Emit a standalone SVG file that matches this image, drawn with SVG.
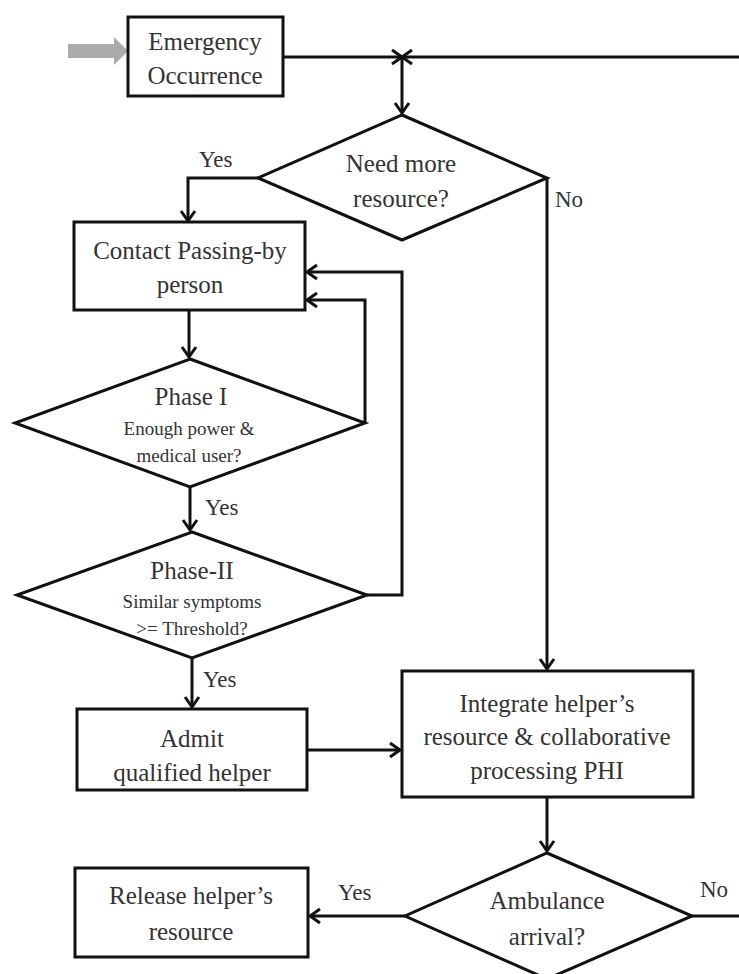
<svg xmlns="http://www.w3.org/2000/svg" width="739" height="974" viewBox="0 0 739 974">
<style>
.box{fill:#fff;stroke:#111;stroke-width:3}
.ln{fill:none;stroke:#111;stroke-width:3;marker-end:url(#ah)}
.pl{fill:none;stroke:#111;stroke-width:3}
text{fill:#333;text-anchor:middle}
.t{font-size:25px}
.s{font-size:19px}
.l{font-size:23px;text-anchor:start}
</style>
<defs>
<marker id="ah" markerUnits="userSpaceOnUse" viewBox="0 0 12 16" markerWidth="12" markerHeight="16" refX="11" refY="8" orient="auto" overflow="visible">
<path d="M1,1 L11,8 L1,15" fill="none" stroke="#111" stroke-width="3"/>
</marker>
</defs>
<g id="connectors" font-family="'Liberation Serif', 'DejaVu Serif', serif">
<polygon points="68,44 114,44 114,37 128,51 114,65 114,58 68,58" fill="#aaa"/>
<line class="ln" x1="283" y1="57" x2="402" y2="57"/>
<line class="ln" x1="739" y1="57" x2="402" y2="57"/>
<line class="ln" x1="402" y1="57" x2="402" y2="113"/>
<polyline class="ln" points="258,178 188,178 188,221"/>
<polyline class="ln" points="547,178 547,669"/>
<line class="ln" x1="189" y1="310" x2="189" y2="357"/>
<polyline class="ln" points="365,423 365,300 307,300"/>
<polyline class="ln" points="367,595 402,595 402,272 307,272"/>
<line class="ln" x1="190" y1="487" x2="190" y2="530"/>
<line class="ln" x1="192" y1="658" x2="192" y2="707"/>
<line class="ln" x1="307" y1="750" x2="400" y2="750"/>
<line class="ln" x1="547" y1="797" x2="547" y2="851"/>
<line class="ln" x1="405" y1="916" x2="310" y2="916"/>
<line class="pl" x1="692" y1="916" x2="739" y2="916"/>
<text class="l" x="199" y="167">Yes</text>
<text class="l" x="555" y="207">No</text>
<text class="l" x="205" y="515">Yes</text>
<text class="l" x="203" y="687">Yes</text>
<text class="l" x="338" y="900">Yes</text>
<text class="l" x="700" y="897">No</text>
</g>
<g id="nodes" font-family="'Liberation Serif', 'DejaVu Serif', serif">
<g id="emergency">
<rect class="box" x="128" y="17" width="155" height="79"/>
<text class="t" x="205" y="50">Emergency</text>
<text class="t" x="205" y="84">Occurrence</text>
</g>
<g id="need-more">
<polygon class="box" points="402,115 547,178 402,240 258,178"/>
<text class="t" x="401" y="172">Need more</text>
<text class="t" x="401" y="207">resource?</text>
</g>
<g id="contact">
<rect class="box" x="74" y="222" width="231" height="88"/>
<text class="t" x="190" y="259">Contact Passing-by</text>
<text class="t" x="190" y="293">person</text>
</g>
<g id="phase1">
<polygon class="box" points="190,359 365,423 190,487 15,423"/>
<text class="t" x="191" y="405">Phase I</text>
<text class="s" x="189" y="435">Enough power &amp;</text>
<text class="s" x="189" y="462">medical user?</text>
</g>
<g id="phase2">
<polygon class="box" points="192,532 367,595 192,658 17,595"/>
<text class="t" x="192" y="579">Phase-II</text>
<text class="s" x="192" y="608">Similar symptoms</text>
<text class="s" x="192" y="635">&gt;= Threshold?</text>
</g>
<g id="admit">
<rect class="box" x="77" y="709" width="230" height="81"/>
<text class="t" x="192" y="747">Admit</text>
<text class="t" x="192" y="781">qualified helper</text>
</g>
<g id="integrate">
<rect class="box" x="402" y="671" width="291" height="126"/>
<text class="t" x="547" y="712">Integrate helper’s</text>
<text class="t" x="547" y="745">resource &amp; collaborative</text>
<text class="t" x="547" y="779">processing PHI</text>
</g>
<g id="ambulance">
<polygon class="box" points="547,853 692,916 547,979 405,916"/>
<text class="t" x="547" y="909">Ambulance</text>
<text class="t" x="547" y="945">arrival?</text>
</g>
<g id="release">
<rect class="box" x="75" y="868" width="233" height="89"/>
<text class="t" x="191" y="904">Release helper’s</text>
<text class="t" x="191" y="940">resource</text>
</g>
</g>
</svg>
